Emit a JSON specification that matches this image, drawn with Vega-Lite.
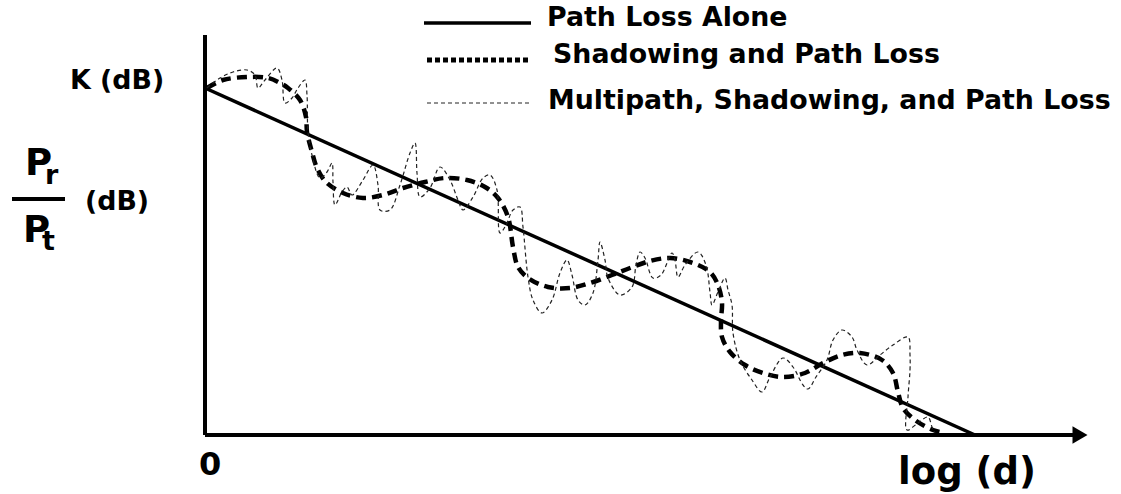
{
  "$schema": "https://vega.github.io/schema/vega-lite/v6.json",
  "width": 880,
  "height": 400,
  "autosize": "none",
  "padding": {"left": 205, "top": 35, "right": 36, "bottom": 59},
  "background": "white",
  "config": {"view": {"stroke": null}},
  "datasets": {
    "pathloss": [{"x": 0, "y": 347}, {"x": 770, "y": 0}],
    "shadow": [
      {"x": 2, "y": 347}, {"x": 18, "y": 355}, {"x": 43, "y": 358}, {"x": 63, "y": 357}, {"x": 75, "y": 352},
      {"x": 83, "y": 347}, {"x": 95, "y": 335}, {"x": 101, "y": 318}, {"x": 102, "y": 303}, {"x": 107, "y": 283},
      {"x": 112, "y": 267}, {"x": 121, "y": 253}, {"x": 138, "y": 242}, {"x": 158, "y": 237}, {"x": 178, "y": 240},
      {"x": 198, "y": 247}, {"x": 220, "y": 253}, {"x": 240, "y": 257}, {"x": 262, "y": 255}, {"x": 280, "y": 248},
      {"x": 293, "y": 237}, {"x": 303, "y": 218}, {"x": 308, "y": 188}, {"x": 313, "y": 168}, {"x": 323, "y": 157},
      {"x": 343, "y": 148}, {"x": 365, "y": 147}, {"x": 385, "y": 152}, {"x": 407, "y": 160}, {"x": 425, "y": 167},
      {"x": 445, "y": 174}, {"x": 465, "y": 177}, {"x": 485, "y": 173}, {"x": 505, "y": 163}, {"x": 513, "y": 150},
      {"x": 517, "y": 132}, {"x": 516, "y": 115}, {"x": 517, "y": 98}, {"x": 525, "y": 83}, {"x": 540, "y": 70},
      {"x": 558, "y": 62}, {"x": 578, "y": 58}, {"x": 600, "y": 62}, {"x": 618, "y": 72}, {"x": 637, "y": 80},
      {"x": 655, "y": 82}, {"x": 677, "y": 75}, {"x": 688, "y": 62}, {"x": 693, "y": 43}, {"x": 698, "y": 27},
      {"x": 710, "y": 15}, {"x": 728, "y": 5}, {"x": 740, "y": 2}
    ],
    "multi": [
      {"x": 2, "y": 347}, {"x": 15, "y": 357}, {"x": 28, "y": 363}, {"x": 42, "y": 365}, {"x": 50, "y": 360},
      {"x": 53, "y": 347}, {"x": 60, "y": 355}, {"x": 72, "y": 367}, {"x": 77, "y": 355}, {"x": 80, "y": 332},
      {"x": 87, "y": 337}, {"x": 93, "y": 347}, {"x": 100, "y": 355}, {"x": 102, "y": 340}, {"x": 103, "y": 303},
      {"x": 107, "y": 280}, {"x": 115, "y": 257}, {"x": 122, "y": 263}, {"x": 127, "y": 272}, {"x": 128, "y": 253},
      {"x": 130, "y": 230}, {"x": 137, "y": 243}, {"x": 142, "y": 248}, {"x": 147, "y": 240}, {"x": 158, "y": 255},
      {"x": 168, "y": 270}, {"x": 173, "y": 250}, {"x": 175, "y": 225}, {"x": 185, "y": 225}, {"x": 195, "y": 250},
      {"x": 205, "y": 282}, {"x": 210, "y": 292}, {"x": 212, "y": 262}, {"x": 215, "y": 238}, {"x": 225, "y": 247},
      {"x": 235, "y": 268}, {"x": 245, "y": 255}, {"x": 253, "y": 235}, {"x": 258, "y": 225}, {"x": 268, "y": 238},
      {"x": 278, "y": 257}, {"x": 285, "y": 260}, {"x": 292, "y": 245}, {"x": 295, "y": 202}, {"x": 301, "y": 210},
      {"x": 308, "y": 225}, {"x": 315, "y": 228}, {"x": 318, "y": 208}, {"x": 323, "y": 158}, {"x": 328, "y": 135},
      {"x": 337, "y": 122}, {"x": 347, "y": 135}, {"x": 355, "y": 162}, {"x": 362, "y": 175}, {"x": 367, "y": 160},
      {"x": 373, "y": 135}, {"x": 380, "y": 130}, {"x": 388, "y": 142}, {"x": 393, "y": 175}, {"x": 395, "y": 193},
      {"x": 400, "y": 175}, {"x": 403, "y": 157}, {"x": 415, "y": 140}, {"x": 427, "y": 148}, {"x": 431, "y": 170},
      {"x": 435, "y": 183}, {"x": 440, "y": 177}, {"x": 448, "y": 157}, {"x": 456, "y": 160}, {"x": 467, "y": 182},
      {"x": 470, "y": 175}, {"x": 473, "y": 158}, {"x": 480, "y": 170}, {"x": 493, "y": 183}, {"x": 501, "y": 170},
      {"x": 505, "y": 143}, {"x": 507, "y": 130}, {"x": 513, "y": 143}, {"x": 520, "y": 157}, {"x": 523, "y": 145},
      {"x": 527, "y": 130}, {"x": 528, "y": 102}, {"x": 535, "y": 75}, {"x": 547, "y": 55}, {"x": 557, "y": 43},
      {"x": 565, "y": 58}, {"x": 578, "y": 77}, {"x": 588, "y": 68}, {"x": 598, "y": 50}, {"x": 603, "y": 46},
      {"x": 611, "y": 58}, {"x": 622, "y": 75}, {"x": 628, "y": 95}, {"x": 637, "y": 105}, {"x": 647, "y": 98},
      {"x": 652, "y": 85}, {"x": 662, "y": 70}, {"x": 675, "y": 80}, {"x": 688, "y": 90}, {"x": 703, "y": 98},
      {"x": 705, "y": 80}, {"x": 705, "y": 65}, {"x": 703, "y": 38}, {"x": 702, "y": 5}, {"x": 713, "y": 12},
      {"x": 723, "y": 18}, {"x": 727, "y": 8}, {"x": 730, "y": 2}
    ]
  },
  "encoding": {
    "x": {"field": "x", "type": "quantitative", "scale": {"domain": [0, 880], "nice": false, "zero": false}, "axis": null},
    "y": {"field": "y", "type": "quantitative", "scale": {"domain": [0, 400], "nice": false, "zero": false}, "axis": null}
  },
  "layer": [
    {
      "data": {"values": [{"x": 0, "y": 0, "x2": 0, "y2": 400}, {"x": 0, "y": 0, "x2": 874, "y2": 0}]},
      "mark": {"type": "rule", "color": "black", "strokeWidth": 4},
      "encoding": {"x2": {"field": "x2"}, "y2": {"field": "y2"}}
    },
    {
      "data": {"values": [{"x": 875, "y": 0}]},
      "mark": {"type": "point", "shape": "triangle-right", "filled": true, "color": "black", "opacity": 1, "size": 300}
    },
    {
      "data": {"name": "pathloss"},
      "mark": {"type": "line", "color": "black", "strokeWidth": 3.5}
    },
    {
      "data": {"name": "shadow"},
      "mark": {"type": "line", "color": "black", "strokeWidth": 4.5, "strokeDash": [10, 6], "interpolate": "catmull-rom"},
      "encoding": {"order": {"value": null}}
    },
    {
      "data": {"name": "multi"},
      "mark": {"type": "line", "color": "#222", "strokeWidth": 1.2, "strokeDash": [4, 3], "interpolate": "catmull-rom"},
      "encoding": {"order": {"value": null}}
    },
    {
      "data": {"values": [{"x": 219, "x2": 326, "y": 412}]},
      "mark": {"type": "rule", "color": "black", "strokeWidth": 3.5},
      "encoding": {"x2": {"field": "x2"}}
    },
    {
      "data": {"values": [{"x": 222, "x2": 326, "y": 375}]},
      "mark": {"type": "rule", "color": "black", "strokeWidth": 5, "strokeDash": [5, 3]},
      "encoding": {"x2": {"field": "x2"}}
    },
    {
      "data": {"values": [{"x": 222, "x2": 326, "y": 332}]},
      "mark": {"type": "rule", "color": "#222", "strokeWidth": 1, "strokeDash": [4, 3]},
      "encoding": {"x2": {"field": "x2"}}
    },
    {
      "data": {"values": [
        {"x": 342, "y": 417, "t": "Path Loss Alone"},
        {"x": 348, "y": 380, "t": "Shadowing and Path Loss"},
        {"x": 343, "y": 334, "t": "Multipath, Shadowing, and Path Loss"},
        {"x": -135, "y": 354, "t": "K (dB)"},
        {"x": -120, "y": 233, "t": "(dB)"}
      ]},
      "mark": {"type": "text", "font": "DejaVu Sans", "fontWeight": "bold", "fontSize": 26.8, "align": "left", "baseline": "middle", "color": "black"},
      "encoding": {"text": {"field": "t"}}
    },
    {
      "data": {"values": [{"x": -180, "y": 260, "t": "P"}, {"x": -182, "y": 193, "t": "P"}]},
      "mark": {"type": "text", "font": "DejaVu Sans", "fontWeight": "bold", "fontSize": 37, "align": "left", "baseline": "alphabetic", "color": "black"},
      "encoding": {"text": {"field": "t"}}
    },
    {
      "data": {"values": [{"x": -160, "y": 251, "t": "r"}, {"x": -163, "y": 185, "t": "t"}]},
      "mark": {"type": "text", "font": "DejaVu Sans", "fontWeight": "bold", "fontSize": 27, "align": "left", "baseline": "alphabetic", "color": "black"},
      "encoding": {"text": {"field": "t"}}
    },
    {
      "data": {"values": [{"x": -193, "x2": -140, "y": 236}]},
      "mark": {"type": "rule", "color": "black", "strokeWidth": 4},
      "encoding": {"x2": {"field": "x2"}}
    },
    {
      "data": {"values": [{"x": 5, "y": -30, "t": "0"}]},
      "mark": {"type": "text", "font": "DejaVu Sans", "fontWeight": "bold", "fontSize": 32, "align": "center", "baseline": "middle", "color": "black"},
      "encoding": {"text": {"field": "t"}}
    },
    {
      "data": {"values": [{"x": 762, "y": -49, "t": "log (d)"}]},
      "mark": {"type": "text", "font": "DejaVu Sans", "fontWeight": "bold", "fontSize": 37, "align": "center", "baseline": "alphabetic", "color": "black"},
      "encoding": {"text": {"field": "t"}}
    }
  ]
}
